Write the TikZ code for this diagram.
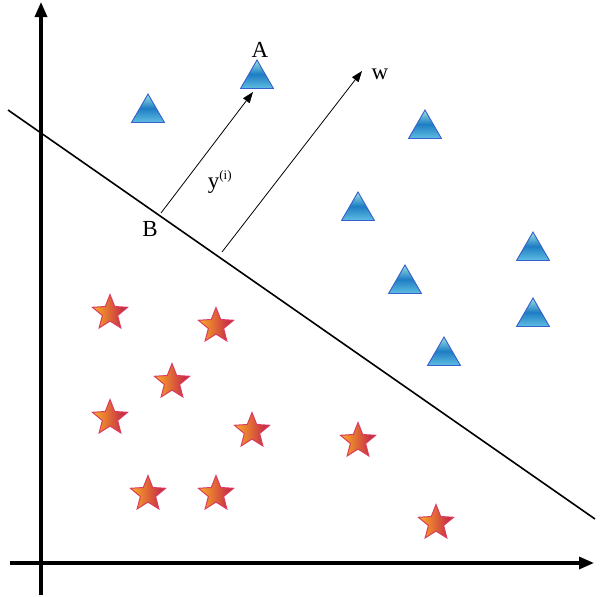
\documentclass[tikz,border=0pt]{standalone}
\usepackage{fontspec}
\setmainfont{Liberation Serif}
\usetikzlibrary{shapes.geometric,arrows.meta}
\definecolor{triTop}{RGB}{150,225,225}
\definecolor{triMid}{RGB}{30,125,195}
\definecolor{triBot}{RGB}{95,190,225}
\definecolor{triEdge}{RGB}{55,95,205}
\definecolor{starA}{RGB}{252,175,35}
\definecolor{starB}{RGB}{190,25,75}
\definecolor{starEdge}{RGB}{220,60,95}
\tikzset{
  tri/.style={regular polygon, regular polygon sides=3, minimum size=38pt, inner sep=0pt,
    draw=triEdge, line width=0.9pt, top color=triTop, bottom color=triBot, middle color=triMid},
  starnode/.style={star, star points=5, star point ratio=2.3, minimum size=37pt, inner sep=0pt,
    draw=starEdge, line width=1pt, left color=starA, right color=starB},
  axis/.style={line width=3.2pt, -{Triangle[length=15pt,width=12pt]}},
  vec/.style={line width=0.8pt, -{Triangle[length=11pt,width=8pt]}},
  lbl/.style={font=\fontsize{23}{26}\selectfont, inner sep=0pt}
}
\begin{document}
\begin{tikzpicture}[x=1pt,y=-1pt]
\useasboundingbox (0,0) rectangle (600,597);
% axes
\coordinate (ys) at (41,595);
\coordinate (ye) at (41,2);
\coordinate (xs) at (10,563);
\coordinate (xe) at (594,563);
\draw[axis] (ys) -- (ye);
\draw[axis] (xs) -- (xe);
% hyperplane
\coordinate (h1) at (8,110);
\coordinate (h2) at (595,519);
\draw[line width=1.6pt] (h1) -- (h2);
% triangles
\node[tri] (t1) at (148,113) {};
\node[tri] (tA) at (257,79) {};
\node[tri] (t3) at (425,129) {};
\node[tri] (t4) at (358,211) {};
\node[tri] (t5) at (533,251) {};
\node[tri] (t6) at (405,284) {};
\node[tri] (t7) at (533,317) {};
\node[tri] (t8) at (444,356) {};
% stars
\node[starnode] (s1) at (110,313) {};
\node[starnode] (s2) at (216,326) {};
\node[starnode] (s3) at (172,382) {};
\node[starnode] (s4) at (110,418) {};
\node[starnode] (s5) at (252,431) {};
\node[starnode] (s6) at (358,441) {};
\node[starnode] (s7) at (148,494) {};
\node[starnode] (s8) at (216,494) {};
\node[starnode] (s9) at (436,523) {};
% vectors
\coordinate (pB) at (161,213);
\coordinate (pA) at (253,92);
\coordinate (w0) at (222,252);
\coordinate (w1) at (362,71);
\draw[vec] (pB) -- (pA);
\draw[vec] (w0) -- (w1);
% labels
\node[lbl] (lA) at (260,50) {A};
\node[lbl] (lw) at (380,74) {w};
\node[lbl] (lB) at (150,229) {B};
\node[lbl] (ly) at (220,182) {y\textsuperscript{\fontsize{13}{14}\selectfont(i)}};
\end{tikzpicture}
\end{document}
